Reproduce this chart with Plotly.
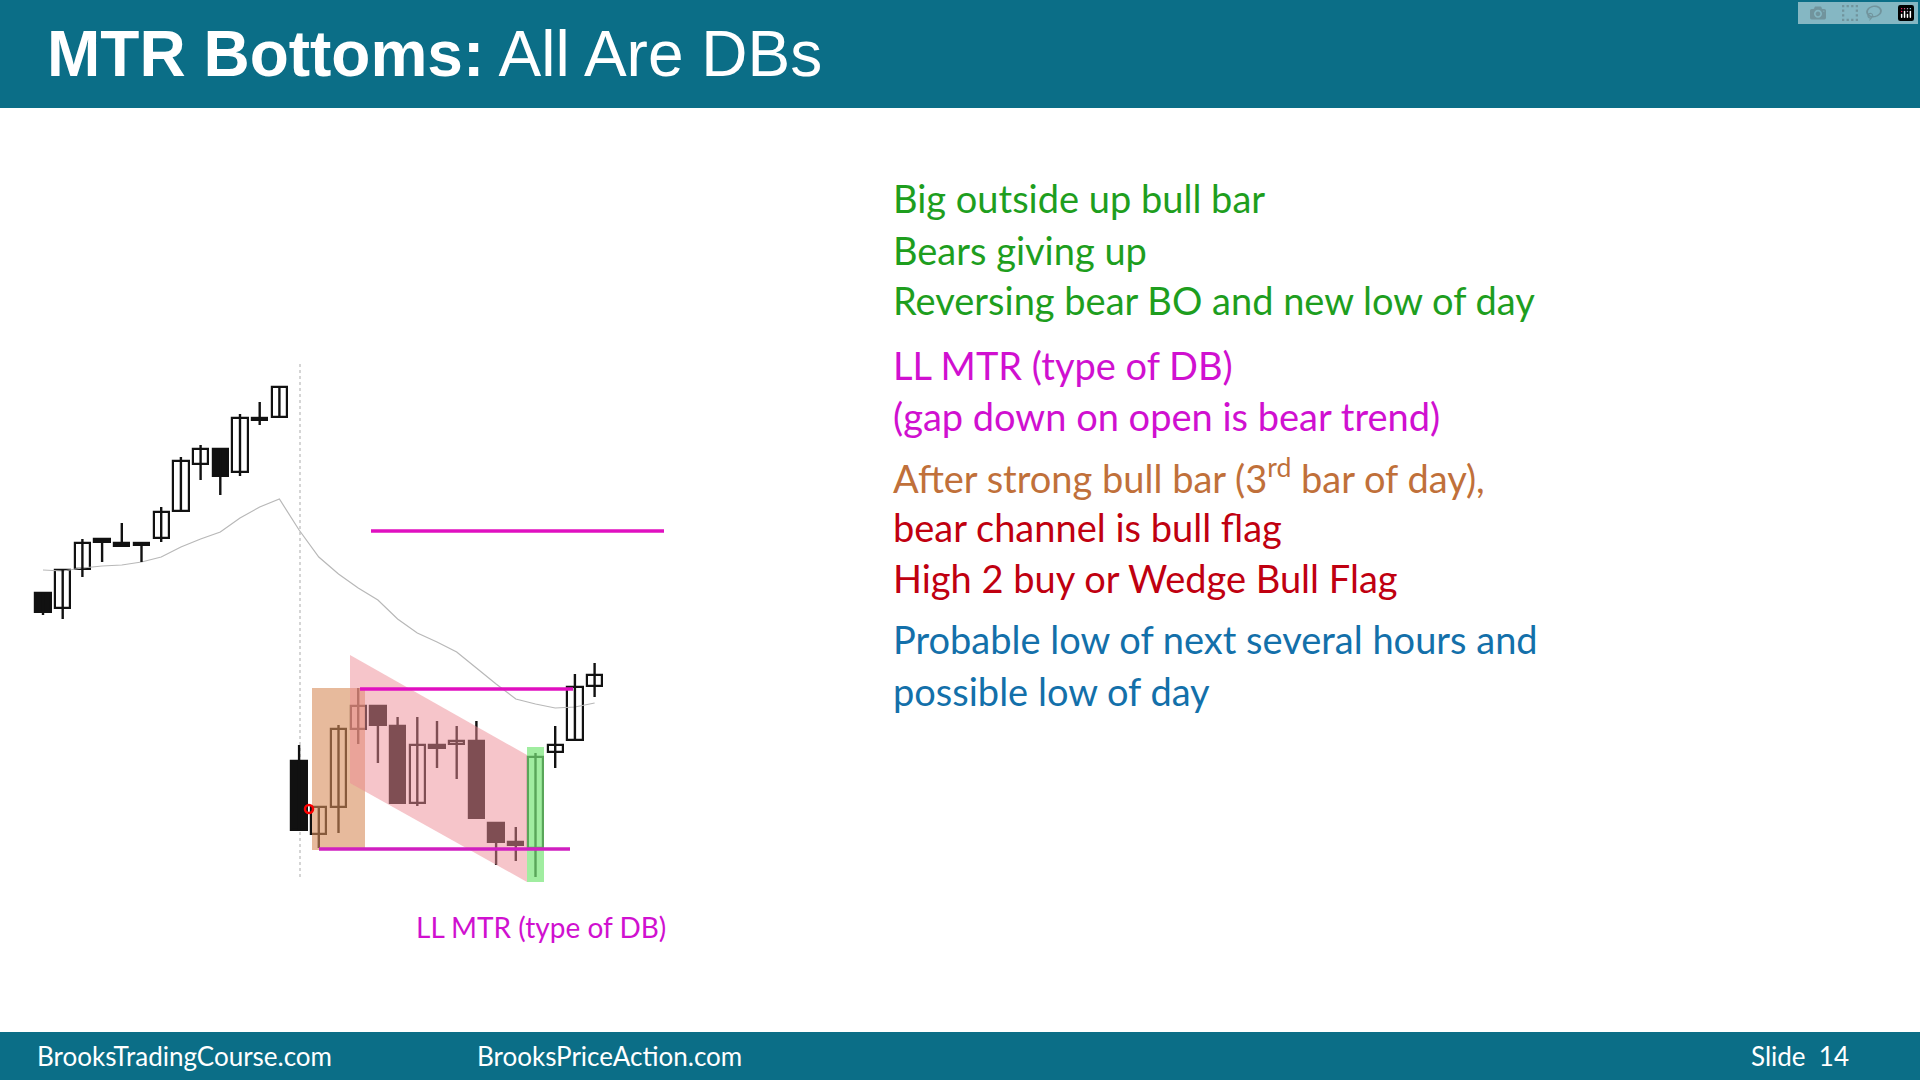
import plotly.graph_objects as go

# Price values are read in screen-pixel units (larger = lower), axis inverted
opens  = [593,608,569,539,543,542.5,538,511,464,449,472,418,417,
          761,834,807,729,706,726,803,745,744,741,823,842,848,752,740,686]
closes = [612,570,543,542,546,543,512,461,449,476,418,417.5,387,
          830,807,729,706,725,803,745,748,741,818,842,845,757,745,687,675]
highs  = [593,570,539,539,523,542.5,507,457,445,449,414,402,387,
          745,807,725,688,706,717,717,721,726,721,823,827,753,726,674,663]
lows   = [615,619,577,562,546,562,542,511,480,495,476,425,417,
          830,848,833,744,763,803,806,768,779,818,865,861,877,768,740,697]
ma     = [570,571,568,566,565,562,557,547,539,532,518,507,499,
          530,557,574,588,600,619,633,642,652,668,684,699,704,708,707,703]

X0, DX = 43.0, 19.7
n = len(opens)
idx = list(range(n))

fig = go.Figure()
fig.add_trace(go.Scatter(x=idx, y=ma, mode="lines", line=dict(color="#b8b8b8", width=1.2), hoverinfo="skip"))
wx, wy = [], []
for i in idx:
    wx += [i, i, None]; wy += [highs[i], lows[i], None]
fig.add_trace(go.Scatter(x=wx, y=wy, mode="lines", line=dict(color="#111", width=2.4), hoverinfo="skip"))
base = [min(o, c) for o, c in zip(opens, closes)]
hgt = [max(abs(o - c), 2.5) for o, c in zip(opens, closes)]
cols = ["#111" if c > o else "white" for o, c in zip(opens, closes)]
fig.add_trace(go.Bar(x=idx, y=hgt, base=base, width=0.78,
                     marker=dict(color=cols, line=dict(color="#111", width=2.2))))

def px(x):
    return (x - X0) / DX

shapes = [
    dict(type="rect", xref="paper", yref="paper", x0=0, x1=1, y0=1 - 108/1080, y1=1,
         fillcolor="#0B6E87", line_width=0, layer="below"),
    dict(type="rect", xref="paper", yref="paper", x0=0, x1=1, y0=0, y1=48/1080,
         fillcolor="#0B6E87", line_width=0, layer="below"),
    dict(type="line", x0=px(300), x1=px(300), y0=364, y1=879, line=dict(color="#c8c8c8", width=1.5, dash="dot"), layer="below"),
    dict(type="rect", x0=px(312), x1=px(365), y0=688, y1=850, fillcolor="rgba(215,140,90,0.75)", line_width=0, layer="above", opacity=0.8),
    dict(type="path", path=f"M {px(350)},655 L {px(527)},755 L {px(527)},882 L {px(350)},783 Z",
         fillcolor="rgba(238,140,150,0.5)", line_width=0, layer="above"),
    dict(type="rect", x0=px(527), x1=px(544), y0=747, y1=882, fillcolor="rgba(120,230,120,0.7)", line_width=0, layer="above"),
    dict(type="line", x0=px(371), x1=px(664), y0=531, y1=531, line=dict(color="#E010C0", width=3.5)),
    dict(type="line", x0=px(360), x1=px(573), y0=689, y1=689, line=dict(color="#E010C0", width=3.5)),
    dict(type="line", x0=px(319), x1=px(570), y0=849, y1=849, line=dict(color="#D020C0", width=3.5)),
    dict(type="circle", x0=px(305), x1=px(313), y0=805, y1=813, line=dict(color="red", width=2.5)),
]

ann = [
    dict(x=45/1920, y=1 - 54/1080, text="<b>MTR Bottoms:</b> All Are DBs",
         font=dict(family="Liberation Sans, Arial", size=64, color="white")),
    dict(x=35/1920, y=24/1080, text="BrooksTradingCourse.com", font=dict(family="Lato, Open Sans", size=26, color="white")),
    dict(x=475/1920, y=24/1080, text="BrooksPriceAction.com", font=dict(family="Lato, Open Sans", size=26, color="white")),
    dict(x=1851/1920, y=24/1080, text="Slide  14", xanchor="right", font=dict(family="Lato, Open Sans", size=26, color="white")),
    dict(x=541/1920, y=1 - 927/1080, text="LL MTR (type of DB)", xanchor="center",
         font=dict(family="Lato, Open Sans", size=28, color="#D010D0")),
]
lines = [
    ("Big outside up bull bar", "#1E9E1E", 198),
    ("Bears giving up", "#1E9E1E", 250),
    ("Reversing bear BO and new low of day", "#1E9E1E", 300),
    ("LL MTR (type of DB)", "#D010D0", 365),
    ("(gap down on open is bear trend)", "#D010D0", 416),
    ("After strong bull bar (3<sup>rd</sup> bar of day),", "#C0703A", 476),
    ("bear channel is bull flag", "#C00010", 527),
    ("High 2 buy or Wedge Bull Flag", "#C00010", 578),
    ("Probable low of next several hours and", "#1370AA", 639),
    ("possible low of day", "#1370AA", 691),
]
for t, c, y in lines:
    ann.append(dict(x=891/1920, y=1 - y/1080, text=t, font=dict(family="Lato, Open Sans", size=38, color=c)))
for a in ann:
    a.update(xref="paper", yref="paper", showarrow=False, xanchor=a.get("xanchor", "left"), yanchor="middle")

fig.update_layout(
    width=1920, height=1080, margin=dict(l=0, r=0, t=0, b=0),
    paper_bgcolor="white", plot_bgcolor="white", showlegend=False,
    shapes=shapes, annotations=ann, bargap=0,
    xaxis=dict(range=[px(0), px(1920)], visible=False, fixedrange=True),
    yaxis=dict(range=[1080, 0], visible=False, fixedrange=True),
)
fig.write_html("out.html", post_script="document.body.style.margin='0';document.body.style.overflow='hidden';")
